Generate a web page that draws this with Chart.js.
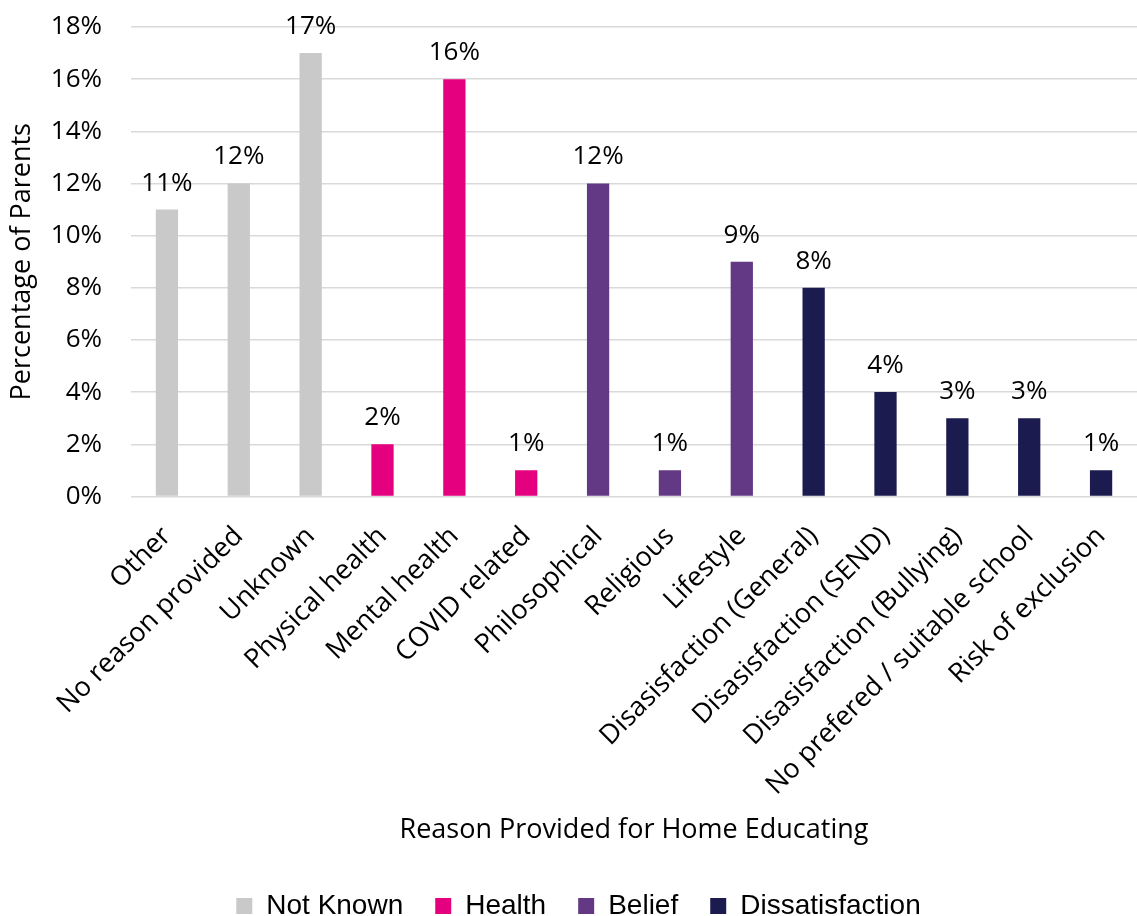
<!DOCTYPE html>
<html>
<head>
<meta charset="utf-8">
<script src="https://cdn.jsdelivr.net/npm/chart.js@4/dist/chart.umd.min.js"></script>
<style>
    body { margin: 0; background: #fff; }
    #wrap { width: 1137px; height: 916px; }
</style>
</head>
<body>
<div id="wrap"><canvas id="chart-reasons"></canvas></div>
<script>
// reasons given for home educating, % of parents
const reasons = ['Other', 'No reason provided', 'Unknown', 'Physical health', 'Mental health', 'COVID related',
    'Philosophical', 'Religious', 'Lifestyle', 'Disasisfaction (General)', 'Disasisfaction (SEND)',
    'Disasisfaction (Bullying)', 'No prefered / suitable school', 'Risk of exclusion'];
const notKnown = [11, 12, 17, null, null, null, null, null, null, null, null, null, null, null];
const health = [null, null, null, 2, 16, 1, null, null, null, null, null, null, null, null];
const belief = [null, null, null, null, null, null, 12, 1, 9, null, null, null, null, null];
const dissatisfaction = [null, null, null, null, null, null, null, null, null, 8, 4, 3, 3, 1];
const yTicks = [0, 2, 4, 6, 8, 10, 12, 14, 16, 18];

const font = "'Open Sans', 'Liberation Sans', sans-serif";

// writes the % value above each bar
const barLabels = {
    id: 'barLabels',
    afterDatasetsDraw(chart) {
        const ctx = chart.ctx;
        ctx.save();
        ctx.font = '26px ' + font;
        ctx.fillStyle = '#000';
        ctx.textAlign = 'center';
        ctx.textBaseline = 'alphabetic';
        chart.data.datasets.forEach((ds, i) => {
            chart.getDatasetMeta(i).data.forEach((bar, j) => {
                if (ds.data[j] === null) return;
                ctx.fillText(ds.data[j] + '%', bar.x, bar.y - 19);
            });
        });
        ctx.restore();
    }
};

const makeSet = (label, data, color) => ({
    label: label,
    data: data,
    backgroundColor: color,
    grouped: false,
    barPercentage: 0.31,
    categoryPercentage: 1
});

new Chart(document.getElementById('chart-reasons'), {
    type: 'bar',
    data: {
        labels: reasons,
        datasets: [
            makeSet('Not Known', notKnown, '#C9C9C9'),
            makeSet('Health', health, '#E4007F'),
            makeSet('Belief', belief, '#633884'),
            makeSet('Dissatisfaction', dissatisfaction, '#1B1B4F')
        ]
    },
    options: {
        responsive: true,
        maintainAspectRatio: false,
        animation: false,
        layout: { padding: { left: 6, right: -14, top: 0, bottom: -14 } },
        scales: {
            x: {
                afterFit: scale => { scale.paddingRight = 0; },
                grid: { display: false },
                border: { display: false },
                ticks: {
                    color: '#000',
                    font: { family: font, size: 27 },
                    minRotation: 45,
                    maxRotation: 45,
                    padding: 16
                },
                title: {
                    display: true,
                    text: 'Reason Provided for Home Educating',
                    color: '#000',
                    font: { family: font, size: 27 },
                    padding: { top: -3, bottom: 13 }
                }
            },
            y: {
                min: 0,
                max: 18,
                // fixed axis width and top gap (tick padding is otherwise counted twice)
                afterFit: scale => {
                    scale.width = 125;
                    scale.paddingTop = 27;
                },
                afterBuildTicks: axis => { axis.ticks = yTicks.map(v => ({ value: v })); },
                grid: { color: '#D9D9D9', lineWidth: 1.5, drawTicks: false },
                border: { display: false },
                ticks: {
                    color: '#000',
                    font: { family: font, size: 26 },
                    padding: 29,
                    callback: v => v + '%'
                },
                title: {
                    display: true,
                    text: 'Percentage of Parents',
                    color: '#000',
                    font: { family: font, size: 27 },
                    padding: { top: 0, bottom: 12 }
                }
            }
        },
        plugins: {
            legend: {
                position: 'bottom',
                labels: {
                    color: '#000',
                    boxWidth: 16,
                    boxHeight: 16,
                    padding: 32,
                    font: { family: "'Liberation Sans', sans-serif", size: 28 }
                }
            },
            tooltip: { enabled: false }
        }
    },
    plugins: [barLabels]
});
</script>
</body>
</html>
